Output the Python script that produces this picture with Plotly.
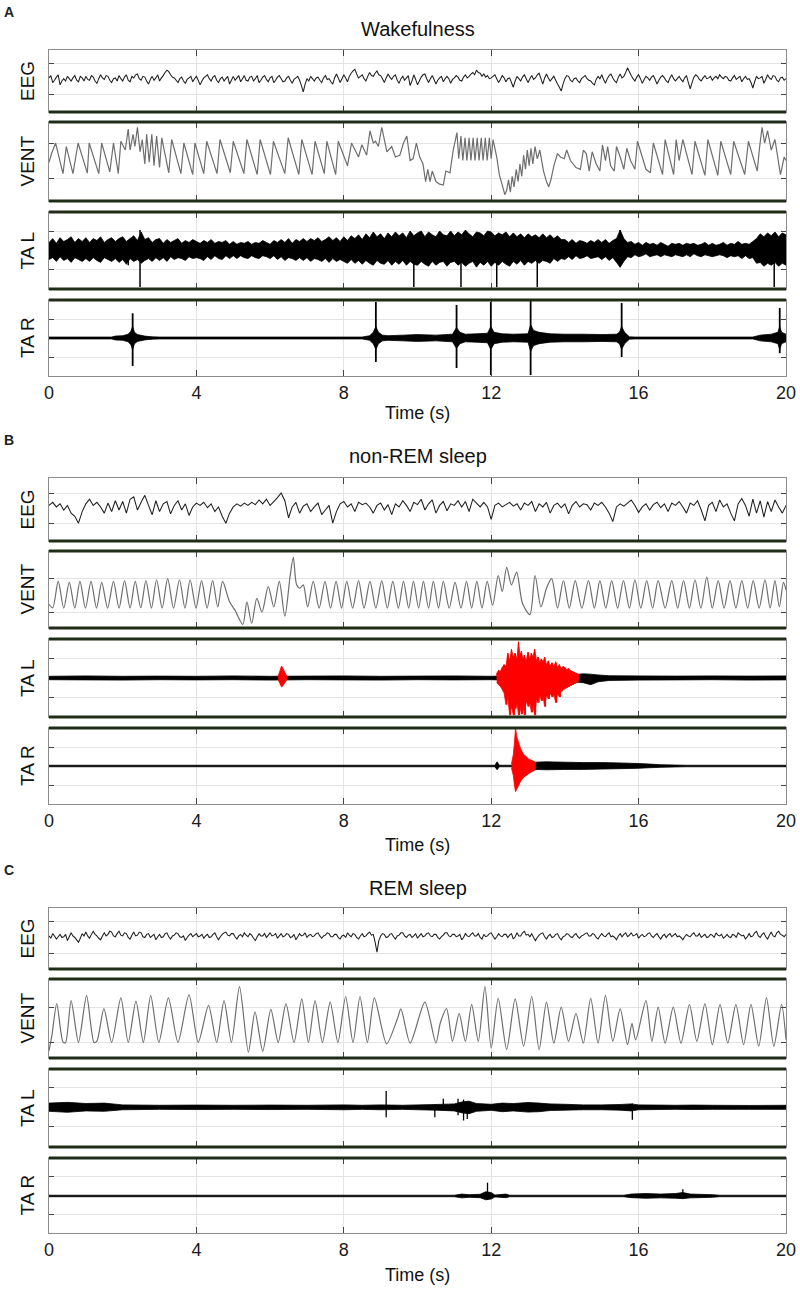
import numpy as np
import plotly.graph_objects as go

# ---------------- DATA ----------------
time_ticks = [0, 4, 8, 12, 16, 20]
row_names = ["EEG", "VENT", "TA L", "TA R"]
panel_letters = ["A", "B", "C"]
panel_titles = ["Wakefulness", "non-REM sleep", "REM sleep"]
x_title = "Time (s)"

# EEG, uniformly sampled over 0-20 s, in units of the +/-1 gridlines
eeg_wake = [0.1, 0.25, -0.2, -0.05, 0.15, 0.3, -0.35, -0.1, 0.05, -0.1, 0.2, 0.05, -0.1, 0.1, 0.25, -0.05, -0.15, 0.2, 0.1, -0.1,
            0.2, 0.0, -0.05, 0.25, 0.15, -0.1, -0.25, 0.05, 0.3, 0.1, 0.0, 0.25, 0.2, -0.05, -0.2, 0.05, 0.1, -0.1, 0.25, 0.05,
            -0.1, 0.15, 0.3, -0.05, -0.15, 0.2, 0.1, 0.3, 0.35, 0.05, -0.05, 0.2, 0.15, -0.1, -0.3, 0.0, 0.2, -0.05, 0.1, 0.3,
            -0.1, 0.1, 0.25, 0.45, 0.6, 0.5, 0.3, 0.15, 0.1, -0.05, -0.2, 0.05, 0.15, -0.1, -0.25, 0.0, 0.1, 0.2, -0.15, 0.05,
            0.2, -0.05, -0.35, -0.1, 0.1, 0.2, 0.3, 0.05, -0.1, 0.15, 0.25, -0.05, -0.2, 0.05, 0.15, -0.1, 0.05, 0.2, -0.3, -0.05,
            0.2, -0.05, 0.1, 0.25, -0.15, 0.05, 0.25, -0.05, -0.1, 0.15, 0.2, -0.1, 0.05, 0.25, -0.2, -0.05, 0.15, 0.25, 0.0, -0.15,
            0.1, 0.2, -0.2, -0.05, 0.15, 0.25, 0.05, -0.15, -0.1, 0.1, 0.2, -0.05, -0.25, 0.0, 0.1, 0.2, -0.05, -0.4, -0.8, -0.3,
            0.05, -0.1, 0.2, 0.05, -0.1, 0.1, 0.15, -0.05, -0.2, 0.1, 0.25, 0.0, 0.05, -0.15, -0.3, 0.1, 0.35, 0.1, -0.2, 0.05,
            0.3, 0.1, -0.15, 0.2, 0.4, 0.55, 0.65, 0.35, 0.1, 0.2, 0.3, 0.05, -0.1, 0.2, 0.45, 0.25, 0.2, 0.4, 0.55, 0.3,
            0.25, 0.05, -0.2, 0.1, 0.35, 0.15, 0.0, 0.2, 0.3, -0.05, -0.25, 0.05, 0.2, -0.05, 0.1, 0.25, -0.4, -0.1, 0.3, 0.0,
            -0.35, -0.1, 0.15, 0.3, 0.35, 0.05, -0.2, 0.05, 0.25, 0.0, -0.3, -0.05, 0.1, 0.2, -0.15, 0.05, 0.2, 0.05, -0.25, 0.0,
            0.1, 0.25, 0.15, -0.05, -0.1, 0.15, 0.3, 0.1, 0.2, 0.35, 0.45, 0.3, 0.6, 0.45, 0.4, 0.2, 0.35, 0.15, 0.25, 0.05,
            0.1, 0.2, 0.3, 0.05, -0.2, 0.0, 0.25, 0.1, -0.15, 0.05, 0.1, -0.2, -0.5, -0.1, 0.2, 0.05, -0.1, 0.15, 0.3, 0.05,
            -0.2, 0.05, 0.25, 0.0, 0.1, 0.3, 0.4, 0.05, -0.3, 0.1, 0.35, 0.1, -0.1, 0.05, 0.2, -0.05, -0.3, -0.5, -0.75, -0.3,
            0.05, 0.25, 0.2, -0.05, -0.15, 0.05, 0.1, -0.1, -0.2, 0.05, 0.15, 0.25, 0.05, -0.05, -0.1, -0.25, -0.35, 0.0, 0.2, 0.05,
            0.3, 0.0, -0.25, 0.05, 0.25, 0.35, 0.1, -0.1, -0.2, 0.15, 0.35, 0.1, 0.2, 0.45, 0.75, 0.5, 0.25, 0.05, -0.1, 0.15,
            0.3, 0.05, -0.25, 0.0, 0.2, 0.1, -0.05, 0.15, 0.25, 0.0, -0.3, -0.05, 0.15, 0.25, 0.1, -0.1, -0.2, 0.1, 0.3, 0.05,
            -0.1, 0.05, 0.2, 0.0, -0.15, 0.1, 0.25, -0.2, -0.6, -0.2, 0.15, 0.3, 0.2, 0.0, -0.1, 0.1, 0.25, 0.05, 0.1, 0.2,
            -0.05, 0.1, 0.2, 0.05, 0.3, 0.15, 0.05, 0.2, 0.15, -0.05, -0.1, 0.1, 0.25, 0.0, 0.1, 0.2, -0.15, 0.05, 0.2, 0.0,
            0.05, -0.2, -0.55, -0.15, 0.2, 0.05, 0.1, 0.2, -0.25, 0.0, 0.3, 0.1, 0.0, 0.25, 0.2, -0.05, -0.15, 0.1, 0.15, -0.05, 0.05]

eeg_nrem = [0.2, 0.4, 0.1, 0.3, -0.1, 0.2, -0.3, -0.5, -0.95, -0.2,
            0.3, 0.6, 0.2, 0.4, 0.1, -0.3, 0.35, -0.2, 0.5, -0.1,
            0.45, -0.3, 0.6, 0.75, -0.1, 0.4, 0.85, 0.2, -0.4, 0.5,
            -0.2, 0.3, 0.45, -0.35, 0.2, 0.5, -0.1, 0.3, -0.45, 0.1,
            0.35, 0.2, 0.4, 0.05, 0.3, -0.2, 0.1, -0.5, -0.95, -0.3,
            0.1, 0.3, 0.15, 0.35, 0.2, 0.4, 0.25, 0.55, 0.3, 0.6,
            0.2, 0.45, 0.7, 1.0, 0.5, -0.6, 0.1, 0.4, -0.3, 0.15,
            0.3, -0.2, 0.1, 0.35, -0.4, -0.1, 0.2, -0.95, -0.2, 0.3,
            0.45, 0.1, 0.3, -0.2, 0.4, 0.25, 0.35, 0.1, -0.3, 0.2,
            0.35, -0.1, 0.25, -0.4, 0.3, 0.1, 0.5, 0.2, -0.2, 0.4,
            0.25, 0.6, -0.1, 0.3, 0.55, -0.3, 0.2, 0.45, -0.15, 0.3,
            0.2, 0.5, 0.1, 0.45, -0.2, 0.6, 0.35, 0.1, 0.4, 0.1,
            -0.7, 0.2, 0.35, 0.1, 0.25, 0.4, 0.15, 0.3, -0.1, 0.35,
            0.2, 0.45, -0.2, 0.3, 0.1, 0.4, -0.3, 0.2, 0.35, 0.05,
            0.3, -0.35, 0.2, 0.45, 0.1, 0.3, 0.25, -0.1, 0.35, 0.2,
            0.4, 0.1, -0.3, -0.85, 0.1, 0.3, 0.15, 0.35, 0.55, 0.2,
            -0.25, 0.1, 0.3, -0.1, 0.25, 0.4, 0.05, 0.3, -0.2, 0.35,
            0.2, 0.45, 0.1, -0.3, 0.35, 0.2, 0.5, -0.1, -0.8, 0.2,
            0.4, -0.2, 0.55, 0.1, 0.3, -0.3, -0.8, 0.3, 0.65, 0.2,
            -0.5, 0.6, -0.3, 0.5, -0.55, 0.45, -0.2, 0.55, 0.1, -0.3, 0.2]

eeg_rem = [0.1, -0.05, 0.25, 0.1, -0.1, 0.05, 0.2, 0.0, 0.05, 0.2, -0.2, 0.05, 0.3, 0.1, 0.0, -0.15, -0.3, -0.05, 0.25, 0.1,
           0.35, 0.1, -0.05, 0.2, 0.4, 0.2, 0.1, -0.05, -0.15, 0.1, 0.3, 0.1, 0.2, 0.4, 0.35, 0.1, 0.05, 0.25, 0.4, 0.15,
           0.1, 0.3, 0.25, 0.0, -0.1, 0.15, 0.35, 0.1, 0.15, 0.35, 0.3, 0.05, 0.0, 0.2, 0.25, 0.0, 0.1, 0.2, -0.15, 0.05,
           0.2, 0.0, 0.05, 0.25, 0.3, 0.05, -0.1, 0.1, 0.15, 0.3, 0.25, 0.05, 0.0, 0.1, -0.2, 0.0, 0.15, 0.25, 0.05, 0.15,
           0.25, 0.05, 0.1, 0.2, -0.05, 0.1, 0.2, 0.0, 0.05, 0.2, 0.3, 0.05, -0.15, 0.05, 0.2, 0.3, 0.35, 0.15, 0.1, 0.25,
           0.25, 0.05, -0.1, 0.1, 0.2, 0.05, 0.3, 0.15, 0.05, 0.25, 0.15, -0.05, -0.2, 0.05, 0.25, 0.1, 0.1, 0.25, 0.0, 0.15,
           0.3, 0.1, 0.15, 0.25, -0.05, 0.1, 0.25, 0.05, 0.1, 0.25, 0.2, 0.0, 0.05, 0.2, -0.15, 0.05, 0.25, 0.1, 0.15, 0.3,
           0.0, 0.15, 0.2, 0.05, 0.1, 0.25, 0.3, 0.1, -0.05, 0.1, 0.15, 0.3, 0.25, 0.05, 0.05, 0.2, 0.2, 0.0, -0.1, 0.1,
           0.15, 0.0, 0.3, 0.15, 0.05, 0.25, 0.2, 0.0, -0.1, 0.1, 0.25, 0.05, 0.1, 0.25, 0.35, 0.15, 0.2, -0.3, -0.95, -0.2,
           0.1, 0.25, 0.2, 0.0, 0.05, 0.2, 0.25, 0.05, -0.1, 0.1, 0.15, 0.3, 0.3, 0.1, 0.0, 0.15, 0.2, 0.0, 0.1, 0.25,
           -0.05, 0.1, 0.25, 0.05, 0.1, 0.25, 0.3, 0.1, 0.05, 0.2, 0.2, 0.0, -0.1, 0.05, 0.15, 0.3, 0.3, 0.1, 0.05, 0.2,
           0.2, 0.05, 0.1, 0.2, -0.15, 0.0, 0.25, 0.1, 0.05, 0.2, 0.3, 0.1, 0.1, 0.25, 0.0, -0.1, 0.2, 0.05, 0.1, 0.25,
           0.3, 0.1, -0.1, 0.05, 0.25, 0.1, 0.05, 0.2, 0.2, 0.0, 0.15, 0.25, -0.1, 0.05, 0.3, 0.1, 0.1, 0.3, 0.4, 0.15,
           0.2, 0.05, 0.25, 0.0, -0.2, 0.0, 0.15, 0.25, 0.3, 0.05, -0.1, 0.1, 0.2, 0.0, 0.05, 0.2, 0.25, 0.0, -0.15, 0.05,
           0.1, 0.25, 0.2, 0.05, 0.0, 0.15, 0.25, 0.05, -0.05, 0.1, 0.15, 0.25, 0.3, 0.1, 0.1, 0.25, 0.2, 0.0, -0.1, 0.1,
           0.25, 0.1, 0.05, 0.2, 0.3, 0.05, 0.1, 0.0, -0.15, 0.1, 0.25, 0.05, 0.2, 0.3, 0.05, 0.15, 0.3, 0.1, 0.15, 0.25,
           -0.05, 0.1, 0.2, 0.05, 0.1, 0.25, 0.3, 0.1, 0.0, 0.15, 0.25, 0.05, -0.1, 0.1, 0.2, 0.0, 0.15, 0.25, 0.05, 0.15,
           0.25, 0.05, 0.1, 0.0, -0.15, 0.05, 0.2, 0.1, 0.05, 0.2, 0.3, 0.1, 0.1, 0.25, 0.0, 0.1, 0.2, 0.0, 0.05, 0.2,
           0.15, 0.0, 0.3, 0.15, 0.1, 0.2, -0.05, 0.05, 0.2, 0.05, 0.0, 0.2, 0.15, 0.0, 0.3, 0.2, 0.1, 0.15, -0.1, 0.05,
           0.25, 0.05, 0.1, 0.3, 0.4, 0.1, 0.0, 0.2, 0.3, 0.05, -0.1, 0.15, 0.35, 0.1, 0.05, 0.3, 0.4, 0.2, 0.15, 0.05, 0.2]

# Ventilation: turning points (time s, value)
vent_wake_t = [0.00, 0.07, 0.18, 0.38, 0.47, 0.65, 0.79, 1.04, 1.09, 1.35,
               1.43, 1.65, 1.75, 1.88, 1.95, 2.07, 2.15, 2.20, 2.28, 2.33,
               2.40, 2.47, 2.53, 2.60, 2.65, 2.72, 2.79, 2.85, 2.92, 3.00,
               3.06, 3.25, 3.33, 3.58, 3.66, 3.90, 3.96, 4.20, 4.28, 4.56,
               4.64, 4.92, 5.00, 5.29, 5.37, 5.65, 5.73, 6.01, 6.09, 6.40,
               6.49, 6.78, 6.86, 7.14, 7.22, 7.47, 7.54, 7.78, 7.85, 8.10,
               8.21, 8.40, 8.49, 8.62, 8.71, 8.80, 8.86, 8.94, 9.03, 9.17,
               9.30, 9.40, 9.52, 9.62, 9.71, 9.80, 9.88, 9.97, 10.06, 10.15,
               10.22, 10.28, 10.34, 10.40, 10.50, 10.60, 10.70, 10.77, 10.88, 10.97,
               11.07, 11.12, 11.18, 11.23, 11.29, 11.34, 11.40, 11.45, 11.51, 11.56,
               11.62, 11.67, 11.73, 11.78, 11.84, 11.89, 11.95, 12.00, 12.05, 12.15,
               12.22, 12.30, 12.37, 12.42, 12.47, 12.52, 12.57, 12.62, 12.68, 12.73,
               12.78, 12.83, 12.88, 12.93, 12.98, 13.03, 13.08, 13.13, 13.19, 13.25,
               13.32, 13.42, 13.50, 13.56, 13.62, 13.70, 13.80, 13.88, 13.98, 14.05,
               14.15, 14.30, 14.42, 14.50, 14.58, 14.66, 14.74, 14.85, 14.95, 15.02,
               15.10, 15.16, 15.24, 15.34, 15.40, 15.50, 15.60, 15.68, 15.78, 15.90,
               15.97, 16.20, 16.32, 16.40, 16.65, 16.72, 16.95, 17.02, 17.10, 17.20,
               17.45, 17.53, 17.80, 17.88, 18.15, 18.23, 18.50, 18.58, 18.88, 18.98,
               19.22, 19.28, 19.35, 19.42, 19.50, 19.60, 19.70, 19.85, 19.95, 20.00]
vent_wake_v = [-0.10, 0.40, 1.00, -0.75, 0.80, -0.75, 1.00, -0.72, 1.00, -0.75,
               1.00, -0.65, 1.00, -0.75, 1.10, 0.60, 1.80, 0.60, 1.50, 0.80,
               1.90, 0.50, 1.20, -0.20, 1.50, -0.10, 1.50, -0.30, 1.40, -0.40,
               1.30, -0.70, 1.20, -0.75, 1.00, -0.80, 1.00, -0.75, 1.10, -0.75,
               1.20, -0.70, 1.10, -0.75, 1.20, -0.80, 1.20, -0.80, 1.10, -0.75,
               1.30, -0.80, 1.20, -0.80, 1.10, -0.75, 1.10, -0.80, 1.10, -0.30,
               1.00, 0.20, 0.90, 0.30, 1.70, 1.00, 1.10, 0.80, 1.90, 0.50,
               0.80, 0.20, 0.30, 1.00, 1.40, 0.00, 0.10, 1.00, 0.20, -0.20,
               -1.20, -0.50, -1.20, -0.60, -1.20, -1.35, -1.40, -0.60, -0.70, 0.60,
               1.60, 0.10, 1.40, 0.00, 1.30, 0.00, 1.30, 0.00, 1.30, 0.00,
               1.30, 0.00, 1.30, 0.00, 1.30, 0.00, 1.30, 0.10, 1.20, 0.20,
               -0.80, -1.40, -1.95, -1.70, -1.10, -1.80, -0.90, -1.50, -0.50, -1.20,
               -0.20, -0.90, 0.30, -0.50, 0.60, -0.30, 0.70, -0.20, 0.80, 0.10,
               0.60, -0.60, -1.20, -1.50, -1.10, -0.30, 0.40, 0.20, 0.10, 0.60,
               0.00, -0.40, -0.50, 0.60, 0.40, -0.60, 0.50, -0.20, -0.60, 0.90,
               0.00, 0.80, -0.30, -0.60, 0.80, 0.20, -0.50, 0.70, 0.00, -0.50,
               1.10, -0.50, -0.70, 1.00, -0.80, 1.20, -0.80, 1.20, 0.00, 1.20,
               -0.80, 1.10, -0.85, 1.20, -0.85, 1.10, -0.80, 1.10, -0.80, 1.10,
               -0.60, 0.70, 1.90, 1.00, 1.70, 0.60, 1.20, -0.80, 0.20, 0.00]

vent_nrem_t = [0.00, 0.10, 0.25, 0.40, 0.55, 0.70, 0.84, 0.99, 1.14, 1.29,
               1.43, 1.59, 1.75, 1.90, 2.05, 2.20, 2.34, 2.49, 2.63, 2.78,
               2.92, 3.07, 3.22, 3.38, 3.54, 3.69, 3.83, 3.99, 4.14, 4.29,
               4.44, 4.58, 4.71, 4.90, 5.05, 5.26, 5.37, 5.50, 5.64, 5.78,
               5.95, 6.10, 6.25, 6.40, 6.54, 6.63, 6.72, 6.81, 6.90, 7.02,
               7.17, 7.33, 7.49, 7.64, 7.79, 7.94, 8.08, 8.24, 8.40, 8.55,
               8.71, 8.87, 9.03, 9.18, 9.33, 9.48, 9.62, 9.76, 9.89, 10.03,
               10.16, 10.30, 10.43, 10.57, 10.70, 10.86, 11.02, 11.18, 11.33, 11.47,
               11.61, 11.75, 11.89, 12.04, 12.19, 12.30, 12.42, 12.55, 12.69, 12.85,
               13.05, 13.19, 13.35, 13.50, 13.64, 13.80, 13.96, 14.12, 14.28, 14.46,
               14.64, 14.80, 14.95, 15.11, 15.27, 15.43, 15.59, 15.75, 15.90, 16.06,
               16.22, 16.38, 16.53, 16.72, 16.90, 17.06, 17.22, 17.38, 17.53, 17.69,
               17.85, 18.00, 18.16, 18.32, 18.48, 18.64, 18.80, 18.96, 19.11, 19.27,
               19.43, 19.57, 19.70, 19.82, 19.93, 20.00]
vent_nrem_v = [-0.55, -0.75, 0.80, -0.77, 0.75, -0.77, 0.80, -0.77, 0.80, -0.77,
               0.75, -0.77, 0.80, -0.77, 0.85, -0.77, 0.80, -0.75, 0.85, -0.77,
               0.90, -0.77, 0.96, -0.77, 0.90, -0.77, 0.90, -0.77, 0.85, -0.77,
               0.85, -0.70, 0.80, -0.40, -0.90, -1.73, -0.40, -1.67, -0.20, -1.00,
               0.50, -0.70, 0.80, -1.25, 1.05, 2.21, 0.60, 0.40, 0.60, -0.70,
               0.80, -0.77, 0.80, -0.77, 0.80, -0.77, 0.80, -0.77, 0.85, -0.77,
               0.80, -0.77, 0.85, -0.77, 0.80, -0.77, 0.80, -0.77, 0.80, -0.77,
               0.80, -0.77, 0.80, -0.77, 0.80, -0.77, 0.75, -0.77, 0.80, -0.77,
               0.80, -0.77, 0.80, -0.60, 1.15, 0.20, 1.63, 0.60, 1.35, -0.50,
               -1.15, 1.15, -0.70, 0.40, 0.96, -0.77, 0.85, -0.77, 0.85, -0.77,
               0.85, -0.77, 0.85, -0.77, 0.85, -0.77, 0.85, -0.77, 0.90, -0.77,
               0.85, -0.77, 0.85, -0.77, 0.85, -0.77, 0.85, -0.77, 0.90, -0.77,
               1.06, -0.77, 0.85, -0.77, 0.85, -0.77, 0.85, -0.77, 0.85, -0.77,
               0.90, -0.77, 0.85, -0.70, 0.75, 0.30]

vent_rem_t = [0.00, 0.08, 0.21, 0.38, 0.45, 0.60, 0.80, 1.02, 1.22, 1.30,
              1.49, 1.70, 1.95, 2.15, 2.36, 2.56, 2.76, 2.98, 3.24, 3.50,
              3.80, 4.05, 4.33, 4.55, 4.75, 4.95, 5.17, 5.41, 5.59, 5.80,
              6.02, 6.22, 6.43, 6.65, 6.86, 7.04, 7.22, 7.42, 7.63, 7.84,
              8.05, 8.25, 8.44, 8.64, 8.83, 9.16, 9.45, 9.55, 9.80, 10.20,
              10.50, 10.62, 10.79, 10.95, 11.13, 11.30, 11.47, 11.65, 11.83, 12.00,
              12.19, 12.42, 12.65, 12.88, 13.10, 13.30, 13.50, 13.70, 13.90, 14.10,
              14.30, 14.50, 14.70, 14.90, 15.10, 15.30, 15.50, 15.70, 15.82, 15.92,
              16.20, 16.36, 16.53, 16.72, 16.94, 17.15, 17.38, 17.58, 17.80, 18.00,
              18.21, 18.42, 18.64, 18.85, 19.05, 19.26, 19.47, 19.67, 19.88, 20.00]
vent_rem_v = [-1.50, -0.60, 1.19, -1.00, -1.02, 1.37, -1.02, 1.65, -1.02, -0.95,
              0.91, -1.02, 1.52, -1.02, 1.34, -1.02, 1.65, -1.02, 1.52, -1.02,
              1.71, -1.02, 1.09, -1.02, 1.37, -1.02, 2.16, -1.58, 0.72, -1.52,
              0.87, -1.02, 1.19, -1.02, 1.47, -1.02, 1.37, -1.02, 1.28, -1.02,
              1.60, -1.02, 1.60, -1.02, 1.52, -1.10, 0.30, 0.90, -1.06, 1.28,
              -1.06, 0.10, 0.91, -0.96, 0.63, -0.96, 1.15, -0.96, 2.16, -1.34,
              1.50, -1.43, 1.47, -1.24, 1.60, -1.43, 1.28, -1.06, 1.00, -0.96,
              0.63, -1.06, 1.50, -1.06, 1.65, -0.96, 0.91, -1.15, 0.07, -0.87,
              1.37, -0.96, 1.00, -1.06, 1.00, -1.06, 1.15, -0.96, 1.19, -1.15,
              1.15, -1.06, 1.15, -1.15, 1.15, -1.24, 1.52, -1.24, 1.15, -0.87]

# EMG (tibialis anterior): upper / lower envelopes and isolated spikes
tal_wake_hi = [0.4, 0.6, 0.35, 0.65, 0.45, 0.55, 0.7, 0.4, 0.6, 0.45,
               0.65, 0.4, 0.6, 0.5, 0.7, 0.4, 0.55, 0.65, 0.45, 0.6,
               0.7, 0.45, 0.6, 0.75, 0.5, 0.95, 0.55, 0.65, 0.4, 0.55,
               0.6, 0.35, 0.55, 0.4, 0.5, 0.6, 0.35, 0.5, 0.4, 0.55,
               0.45, 0.35, 0.5, 0.4, 0.55, 0.35, 0.45, 0.4, 0.5, 0.3,
               0.45, 0.3, 0.4, 0.35, 0.45, 0.3, 0.4, 0.35, 0.5, 0.4,
               0.3, 0.5, 0.4, 0.55, 0.4, 0.6, 0.35, 0.55, 0.45, 0.6,
               0.45, 0.6, 0.5, 0.65, 0.45, 0.55, 0.7, 0.5, 0.65, 0.45,
               0.7, 0.5, 0.75, 0.6, 0.8, 0.55, 0.85, 0.65, 0.95, 0.7,
               0.85, 0.6, 0.9, 0.7, 0.95, 0.75, 0.9, 0.65, 1.0, 0.75,
               0.9, 1.0, 0.7, 0.95, 0.8, 0.7, 1.0, 0.8, 0.75, 1.0,
               0.75, 0.95, 0.8, 1.05, 0.85, 0.7, 0.95, 0.9, 0.75, 1.0,
               0.95, 0.75, 0.9, 0.8, 0.95, 0.7, 0.9, 0.7, 0.85, 0.65,
               0.85, 0.7, 0.8, 0.65, 0.85, 0.65, 0.8, 0.6, 0.75, 0.55,
               0.55, 0.4, 0.55, 0.35, 0.5, 0.45, 0.35, 0.5, 0.4, 0.55,
               0.4, 0.55, 0.35, 0.5, 0.6, 1.05, 0.6, 0.4, 0.45, 0.3,
               0.4, 0.25, 0.4, 0.3, 0.35, 0.25, 0.4, 0.3, 0.2, 0.35,
               0.3, 0.35, 0.25, 0.35, 0.3, 0.35, 0.25, 0.3, 0.4, 0.25,
               0.35, 0.25, 0.3, 0.4, 0.25, 0.35, 0.3, 0.45, 0.3, 0.35,
               0.3, 0.45, 0.6, 0.85, 0.7, 0.9, 0.75, 0.95, 0.7, 0.9, 0.8]
tal_wake_lo = [-0.5, -0.4, -0.6, -0.35, -0.55, -0.45, -0.65, -0.4, -0.5, -0.6,
               -0.45, -0.6, -0.4, -0.55, -0.65, -0.4, -0.5, -0.6, -0.45, -0.65,
               -0.5, -0.75, -0.45, -0.6, -0.5, -0.7, -0.55, -0.45, -0.6, -0.4,
               -0.55, -0.4, -0.6, -0.35, -0.5, -0.4, -0.45, -0.55, -0.35, -0.45,
               -0.4, -0.45, -0.55, -0.35, -0.5, -0.3, -0.45, -0.5, -0.3, -0.45,
               -0.3, -0.45, -0.3, -0.4, -0.45, -0.3, -0.4, -0.45, -0.3, -0.35,
               -0.45, -0.3, -0.5, -0.35, -0.55, -0.4, -0.45, -0.55, -0.4, -0.55,
               -0.4, -0.6, -0.45, -0.5, -0.6, -0.45, -0.65, -0.45, -0.6, -0.5,
               -0.6, -0.7, -0.5, -0.7, -0.55, -0.75, -0.55, -0.7, -0.8, -0.55,
               -0.7, -0.75, -0.55, -0.8, -0.6, -0.75, -0.55, -0.8, -0.6, -0.75,
               -0.8, -0.6, -0.75, -0.85, -0.6, -0.8, -0.65, -0.6, -0.85, -0.65,
               -0.6, -0.8, -0.65, -0.85, -0.7, -0.6, -0.9, -0.65, -0.8, -0.6,
               -0.85, -0.65, -0.8, -0.6, -0.75, -0.85, -0.6, -0.75, -0.55, -0.8,
               -0.6, -0.7, -0.55, -0.7, -0.55, -0.6, -0.7, -0.45, -0.6, -0.45,
               -0.5, -0.35, -0.5, -0.3, -0.45, -0.4, -0.3, -0.45, -0.4, -0.35,
               -0.5, -0.35, -0.55, -0.4, -0.65, -0.9, -0.6, -0.35, -0.4, -0.25,
               -0.35, -0.3, -0.2, -0.35, -0.3, -0.25, -0.35, -0.25, -0.3, -0.35,
               -0.25, -0.3, -0.35, -0.25, -0.35, -0.2, -0.3, -0.35, -0.25, -0.3,
               -0.35, -0.3, -0.25, -0.3, -0.4, -0.3, -0.35, -0.3, -0.45, -0.3,
               -0.45, -0.4, -0.7, -0.65, -0.85, -0.7, -0.8, -0.65, -0.85, -0.7, -0.8]
tal_wake_spk_t = [2.15, 2.47, 9.90, 11.18, 12.15, 13.25, 15.50, 19.68]
tal_wake_spk_hi = [0.5, 1.05, 0.6, 0.6, 0.7, 0.6, 1.05, 0.7]
tal_wake_spk_lo = [-0.8, -1.95, -1.95, -1.95, -1.95, -1.95, -0.9, -1.95]

tar_wake_t = [0, 1.70, 1.80, 2.00, 2.15, 2.22, 2.27, 2.32, 2.40, 2.60, 2.80, 3.00,
              8.50, 8.70, 8.80, 8.87, 8.94, 9.05, 9.20, 9.60, 10.00, 10.50,
              10.95, 11.06, 11.15, 11.30, 11.60, 11.90, 11.99, 12.08, 12.30, 12.60,
              13.00, 13.07, 13.15, 13.30, 13.60, 14.00, 14.50, 15.00, 15.40, 15.48,
              15.54, 15.62, 15.75, 15.90, 16.20, 19.10, 19.30, 19.60, 19.78, 19.83,
              19.88, 20.00]
tar_wake_hi = [0.05, 0.05, 0.1, 0.12, 0.2, 0.35, 0.6, 0.3, 0.18, 0.1, 0.06, 0.05,
               0.05, 0.12, 0.3, 0.6, 0.3, 0.15, 0.12, 0.15, 0.18, 0.15,
               0.2, 0.55, 0.3, 0.2, 0.22, 0.25, 0.6, 0.3, 0.22, 0.2,
               0.22, 0.7, 0.4, 0.3, 0.22, 0.2, 0.2, 0.18, 0.2, 0.3,
               0.6, 0.3, 0.06, 0.05, 0.05, 0.05, 0.15, 0.2, 0.3, 0.6,
               0.3, 0.2]
tar_wake_lo = [-0.05, -0.05, -0.1, -0.12, -0.2, -0.35, -0.6, -0.3, -0.18, -0.1, -0.06, -0.05,
               -0.05, -0.12, -0.3, -0.6, -0.3, -0.15, -0.12, -0.15, -0.18, -0.15,
               -0.2, -0.55, -0.3, -0.2, -0.22, -0.25, -0.6, -0.3, -0.22, -0.2,
               -0.22, -0.7, -0.4, -0.3, -0.22, -0.2, -0.2, -0.18, -0.2, -0.3,
               -0.6, -0.3, -0.06, -0.05, -0.05, -0.05, -0.15, -0.2, -0.3, -0.6,
               -0.3, -0.2]
tar_wake_spk_t = [2.27, 8.87, 11.06, 11.99, 13.07, 15.54, 19.83]
tar_wake_spk_hi = [1.3, 1.9, 1.74, 1.9, 2.0, 1.84, 1.58]
tar_wake_spk_lo = [-1.47, -1.26, -1.58, -1.95, -1.95, -1.0, -0.8]

tal_nrem_t = [0, 1, 2, 3, 4, 5, 6, 7, 8, 9, 10, 11, 12, 12.15,
              14.36, 14.5, 14.7, 14.9, 15.2, 16, 17, 18, 19, 20]
tal_nrem_hi = [0.09, 0.11, 0.09, 0.1, 0.09, 0.11, 0.09, 0.1, 0.11, 0.09, 0.1, 0.11, 0.09, 0.1,
               0.2, 0.22, 0.2, 0.16, 0.12, 0.11, 0.1, 0.11, 0.1, 0.11]
tal_nrem_lo = [-0.09, -0.1, -0.11, -0.09, -0.1, -0.09, -0.11, -0.09, -0.1, -0.11, -0.09, -0.1, -0.09, -0.1,
               -0.22, -0.25, -0.35, -0.2, -0.13, -0.11, -0.1, -0.09, -0.11, -0.1]
tal_nrem_red1_t = [6.22, 6.27, 6.31, 6.35, 6.40, 6.45]
tal_nrem_red1_hi = [0.1, 0.4, 0.63, 0.5, 0.3, 0.1]
tal_nrem_red1_lo = [-0.1, -0.3, -0.47, -0.4, -0.25, -0.1]
tal_nrem_red2_t = [12.15, 12.20, 12.25, 12.30, 12.35, 12.40, 12.45, 12.50, 12.55, 12.60,
                   12.65, 12.70, 12.74, 12.78, 12.82, 12.86, 12.90, 12.95, 13.00, 13.05,
                   13.09, 13.13, 13.18, 13.23, 13.27, 13.32, 13.36, 13.41, 13.45, 13.50,
                   13.55, 13.60, 13.65, 13.70, 13.75, 13.80, 13.85, 13.90, 13.95, 14.00,
                   14.05, 14.10, 14.15, 14.20, 14.25, 14.30, 14.36]
tal_nrem_red2_hi = [0.25, 0.4, 0.35, 0.55, 0.7, 0.6, 1.3, 0.9, 1.5, 1.1,
                    1.3, 1.0, 1.9, 1.2, 1.4, 1.0, 1.2, 0.9, 1.35, 1.0,
                    1.3, 1.1, 1.5, 0.9, 1.1, 0.8, 1.0, 0.85, 1.1, 0.7,
                    0.9, 0.65, 0.8, 0.6, 0.85, 0.55, 0.7, 0.5, 0.6, 0.55,
                    0.45, 0.5, 0.4, 0.35, 0.3, 0.25, 0.2]
tal_nrem_red2_lo = [-0.25, -0.35, -0.45, -0.6, -0.8, -1.4, -1.0, -1.95, -1.5, -1.95,
                    -1.6, -1.3, -1.95, -1.5, -1.9, -1.4, -1.95, -1.2, -1.5, -1.3,
                    -1.8, -1.4, -1.95, -1.1, -1.3, -0.9, -1.2, -1.0, -1.5, -0.9,
                    -1.1, -0.8, -1.0, -0.85, -1.3, -0.8, -1.0, -0.7, -0.6, -0.55,
                    -0.5, -0.45, -0.4, -0.35, -0.3, -0.25, -0.2]

tar_nrem_t = [0, 12.10, 12.16, 12.22, 12.55, 13.20, 13.50, 14.00, 14.50,
              15.00, 15.50, 16.00, 16.30, 16.60, 17.00, 17.30, 20]
tar_nrem_hi = [0.04, 0.04, 0.22, 0.04, 0.04, 0.2, 0.22, 0.2, 0.18,
               0.18, 0.16, 0.13, 0.1, 0.07, 0.05, 0.04, 0.04]
tar_nrem_lo = [-0.04, -0.04, -0.2, -0.04, -0.04, -0.18, -0.2, -0.18, -0.18,
               -0.16, -0.14, -0.12, -0.09, -0.07, -0.05, -0.04, -0.04]
tar_nrem_red_t = [12.55, 12.60, 12.63, 12.66, 12.70, 12.75, 12.80, 12.88, 12.95, 13.02, 13.10, 13.20]
tar_nrem_red_hi = [0.1, 0.6, 1.2, 2.0, 1.5, 1.2, 0.9, 0.6, 0.5, 0.35, 0.3, 0.2]
tar_nrem_red_lo = [-0.1, -0.5, -1.0, -1.35, -1.2, -1.0, -0.8, -0.6, -0.5, -0.4, -0.3, -0.2]

tal_rem_t = [0, 0.5, 1.0, 1.5, 2.0, 3.0, 4.0, 5.0, 6.0, 7.0,
             8.0, 8.5, 9.0, 9.3, 9.6, 10.0, 10.5, 11.0, 11.2, 11.4,
             11.6, 12.0, 12.3, 12.6, 13.0, 13.3, 13.6, 14.0, 14.5, 15.0,
             15.5, 15.8, 16.0, 16.5, 17.0, 17.5, 18.0, 19.0, 20.0]
tal_rem_hi = [0.22, 0.26, 0.2, 0.22, 0.13, 0.11, 0.12, 0.11, 0.12, 0.11,
              0.13, 0.11, 0.13, 0.12, 0.11, 0.13, 0.15, 0.18, 0.28, 0.32,
              0.2, 0.16, 0.22, 0.2, 0.25, 0.22, 0.18, 0.16, 0.13, 0.13,
              0.15, 0.18, 0.13, 0.12, 0.11, 0.12, 0.11, 0.1, 0.11]
tal_rem_lo = [-0.2, -0.25, -0.18, -0.2, -0.12, -0.1, -0.11, -0.1, -0.11, -0.1,
              -0.12, -0.1, -0.12, -0.11, -0.1, -0.12, -0.14, -0.18, -0.28, -0.32,
              -0.2, -0.15, -0.22, -0.18, -0.24, -0.22, -0.16, -0.14, -0.12, -0.12,
              -0.14, -0.18, -0.12, -0.11, -0.1, -0.11, -0.1, -0.1, -0.1]
tal_rem_spk_t = [9.15, 10.47, 10.70, 11.10, 11.25, 11.35, 15.83]
tal_rem_spk_hi = [0.84, 0.15, 0.45, 0.45, 0.4, 0.3, 0.2]
tal_rem_spk_lo = [-0.5, -0.5, -0.15, -0.4, -0.67, -0.6, -0.63]

tar_rem_t = [0, 11.0, 11.2, 11.4, 11.7, 11.85, 12.0, 12.1, 12.4, 12.5,
             15.6, 15.8, 16.2, 16.6, 17.0, 17.2, 17.4, 17.6, 18.0, 18.2, 20]
tar_rem_hi = [0.04, 0.04, 0.1, 0.07, 0.09, 0.22, 0.18, 0.05, 0.1, 0.04,
              0.04, 0.1, 0.13, 0.1, 0.13, 0.18, 0.1, 0.09, 0.07, 0.04, 0.04]
tar_rem_lo = [-0.04, -0.04, -0.1, -0.07, -0.09, -0.2, -0.16, -0.05, -0.09, -0.04,
              -0.04, -0.09, -0.12, -0.1, -0.12, -0.14, -0.1, -0.09, -0.07, -0.04, -0.04]
tar_rem_spk_t = [11.9, 17.2]
tar_rem_spk_hi = [0.7, 0.35]
tar_rem_spk_lo = [-0.21, -0.15]

# ---------------- LAYOUT GEOMETRY ----------------
W, H = 800, 1289
PX_LEFT, PX_RIGHT = 49, 786
row_px = [(50, 112), (122, 201), (212, 289), (300, 376),
          (478, 541), (551, 628), (639, 717), (728, 804),
          (908, 969), (979, 1058), (1069, 1147), (1158, 1233)]
y_ranges = [[-2.10, 1.90], [-2.31, 2.20], [-2.05, 2.00], [-2.00, 2.00],
            [-2.10, 1.97], [-1.94, 2.59], [-2.05, 2.05], [-2.00, 2.00],
            [-2.03, 1.90], [-1.91, 2.60], [-2.03, 1.97], [-1.95, 2.00]]
FONT = "Liberation Sans, Arial, sans-serif"
EDGE_DARK = "#1f2c17"


def px_x(px):
    return px / W


def px_y(py):
    return 1 - py / H


def names(k):
    return ("x" if k == 1 else f"x{k}"), ("y" if k == 1 else f"y{k}")


fig = go.Figure()


def add_line(k, t, v, color, width, shape="linear", smoothing=1.0):
    xa, ya = names(k)
    line = dict(color=color, width=width, shape=shape)
    if shape == "spline":
        line["smoothing"] = smoothing
    else:
        line["simplify"] = False
    fig.add_trace(go.Scatter(x=t, y=v, mode="lines", line=line, xaxis=xa, yaxis=ya,
                             hoverinfo="skip", showlegend=False))


def add_band(k, t, hi, lo, color, width=0.8):
    xa, ya = names(k)
    t = list(t)
    xs = t + t[::-1]
    ys = list(hi) + list(lo)[::-1]
    fig.add_trace(go.Scatter(x=xs, y=ys, mode="lines", fill="toself", fillcolor=color,
                             line=dict(color=color, width=width, simplify=False), xaxis=xa, yaxis=ya,
                             hoverinfo="skip", showlegend=False))


def add_oscillation(k, t, hi, lo, lag, color, width=1.0):
    """EMG drawn as alternating maxima (at t) and minima (at t+lag)."""
    xa, ya = names(k)
    xs, ys = [], []
    for ti, h, l in zip(t, hi, lo):
        xs += [ti, ti + lag]
        ys += [h, l]
    fig.add_trace(go.Scatter(x=xs, y=ys, mode="lines",
                             line=dict(color=color, width=width, simplify=False),
                             xaxis=xa, yaxis=ya, hoverinfo="skip", showlegend=False))


def add_spikes(k, t, hi, lo, color, width=1.5):
    xa, ya = names(k)
    xs, ys = [], []
    for ti, h, l in zip(t, hi, lo):
        xs += [ti, ti, None]
        ys += [l, h, None]
    fig.add_trace(go.Scatter(x=xs, y=ys, mode="lines", line=dict(color=color, width=width),
                             xaxis=xa, yaxis=ya, hoverinfo="skip", showlegend=False))


def uniform_t(values):
    return np.linspace(0, 20, len(values))


EEG_C, VENT_C, EMG_C, RED = "#1e1e1e", "#6e6e6e", "#000000", "#ff0000"

# Panel A
add_line(1, uniform_t(eeg_wake), eeg_wake, EEG_C, 1.05)
add_line(2, vent_wake_t, vent_wake_v, VENT_C, 1.2)
add_band(3, uniform_t(tal_wake_hi), tal_wake_hi, tal_wake_lo, EMG_C, 0.8)
add_spikes(3, tal_wake_spk_t, tal_wake_spk_hi, tal_wake_spk_lo, EMG_C, 1.5)
add_band(4, tar_wake_t, tar_wake_hi, tar_wake_lo, EMG_C)
add_spikes(4, tar_wake_spk_t, tar_wake_spk_hi, tar_wake_spk_lo, EMG_C, 1.8)

# Panel B
add_line(5, uniform_t(eeg_nrem), eeg_nrem, EEG_C, 1.05)
add_line(6, vent_nrem_t, vent_nrem_v, VENT_C, 1.2, "spline", 0.8)
add_band(7, tal_nrem_t, tal_nrem_hi, tal_nrem_lo, EMG_C)
add_band(7, tal_nrem_red1_t, tal_nrem_red1_hi, tal_nrem_red1_lo, RED)
add_band(7, tal_nrem_red2_t, tal_nrem_red2_hi, tal_nrem_red2_lo, RED)
add_oscillation(7, tal_nrem_red2_t, tal_nrem_red2_hi, tal_nrem_red2_lo, 0.025, RED, 1.0)
add_band(8, tar_nrem_t, tar_nrem_hi, tar_nrem_lo, EMG_C)
add_band(8, tar_nrem_red_t, tar_nrem_red_hi, tar_nrem_red_lo, RED)

# Panel C
add_line(9, uniform_t(eeg_rem), eeg_rem, EEG_C, 1.05)
add_line(10, vent_rem_t, vent_rem_v, VENT_C, 1.2, "spline", 0.7)
add_band(11, tal_rem_t, tal_rem_hi, tal_rem_lo, EMG_C)
add_spikes(11, tal_rem_spk_t, tal_rem_spk_hi, tal_rem_spk_lo, EMG_C, 1.3)
add_band(12, tar_rem_t, tar_rem_hi, tar_rem_lo, EMG_C)
add_spikes(12, tar_rem_spk_t, tar_rem_spk_hi, tar_rem_spk_lo, EMG_C, 1.3)

layout = dict(width=W, height=H, autosize=False,
              margin=dict(l=0, r=0, t=0, b=0, pad=0, autoexpand=False),
              paper_bgcolor="white", plot_bgcolor="white", showlegend=False,
              hovermode=False, font=dict(family=FONT, color="#111"))
shapes = []
for k in range(1, 13):
    top, bot = row_px[k - 1]
    xa, ya = names(k)
    bottom_row = (k % 4 == 0)
    layout["xaxis" if k == 1 else f"xaxis{k}"] = dict(
        domain=[px_x(PX_LEFT), px_x(PX_RIGHT)], range=[0, 20], anchor=ya, automargin=False,
        tickmode="array", tickvals=time_ticks, ticktext=[str(v) for v in time_ticks],
        showticklabels=bottom_row, tickfont=dict(size=18, color="#1a1a1a"),
        ticks="inside", ticklen=6, tickcolor="#444", tickwidth=1,
        showgrid=True, gridcolor="#e4e4e4", gridwidth=1, zeroline=False,
        showline=True, linecolor="#8c8c8c", linewidth=1, mirror="ticks", fixedrange=True)
    layout["yaxis" if k == 1 else f"yaxis{k}"] = dict(
        domain=[px_y(bot), px_y(top)], range=y_ranges[k - 1], anchor=xa, automargin=False,
        tickmode="array", tickvals=[-1, 1], showticklabels=False,
        ticks="inside", ticklen=5, tickcolor="#444", tickwidth=1,
        showgrid=True, gridcolor="#e4e4e4", gridwidth=1, zeroline=False,
        showline=True, linecolor="#8c8c8c", linewidth=1, mirror="ticks", fixedrange=True)
    pos = (k - 1) % 4
    edges = []
    if pos > 0:
        edges.append(1)
    if pos < 3:
        edges.append(0)
    for e in edges:
        shapes.append(dict(type="line", xref=f"{xa} domain", yref=f"{ya} domain",
                           x0=0, x1=1, y0=e, y1=e, line=dict(color=EDGE_DARK, width=3),
                           layer="above"))
layout["shapes"] = shapes

annotations = []
title_y = [29, 456, 888]
letter_y = [12, 440, 870]
xlabel_y = [413, 845, 1275]
cx = (PX_LEFT + PX_RIGHT) / 2
for p in range(3):
    annotations.append(dict(text=f"<b>{panel_letters[p]}</b>", x=px_x(9), y=px_y(letter_y[p]),
                            xref="paper", yref="paper", showarrow=False,
                            font=dict(size=14, color="#222"), xanchor="center", yanchor="middle"))
    annotations.append(dict(text=panel_titles[p], x=px_x(cx), y=px_y(title_y[p]),
                            xref="paper", yref="paper", showarrow=False,
                            font=dict(size=20, color="#111"), xanchor="center", yanchor="middle"))
    annotations.append(dict(text=x_title, x=px_x(cx), y=px_y(xlabel_y[p]),
                            xref="paper", yref="paper", showarrow=False,
                            font=dict(size=18, color="#111"), xanchor="center", yanchor="middle"))
    for r in range(4):
        top, bot = row_px[p * 4 + r]
        annotations.append(dict(text=row_names[r], x=px_x(27), y=px_y((top + bot) / 2),
                                xref="paper", yref="paper", showarrow=False, textangle=-90,
                                font=dict(size=19, color="#111"), xanchor="center", yanchor="middle"))
layout["annotations"] = annotations

fig.update_layout(**layout)

post = ("document.documentElement.style.overflow='hidden';"
        "document.body.style.margin='0';document.body.style.padding='0';"
        "document.body.style.overflow='hidden';"
        "var gd=document.getElementById('{plot_id}');"
        "Plotly.relayout(gd,{width:800,height:1289});")
fig.write_html("out.html", config={"responsive": False, "displayModeBar": False},
               post_script=post)
